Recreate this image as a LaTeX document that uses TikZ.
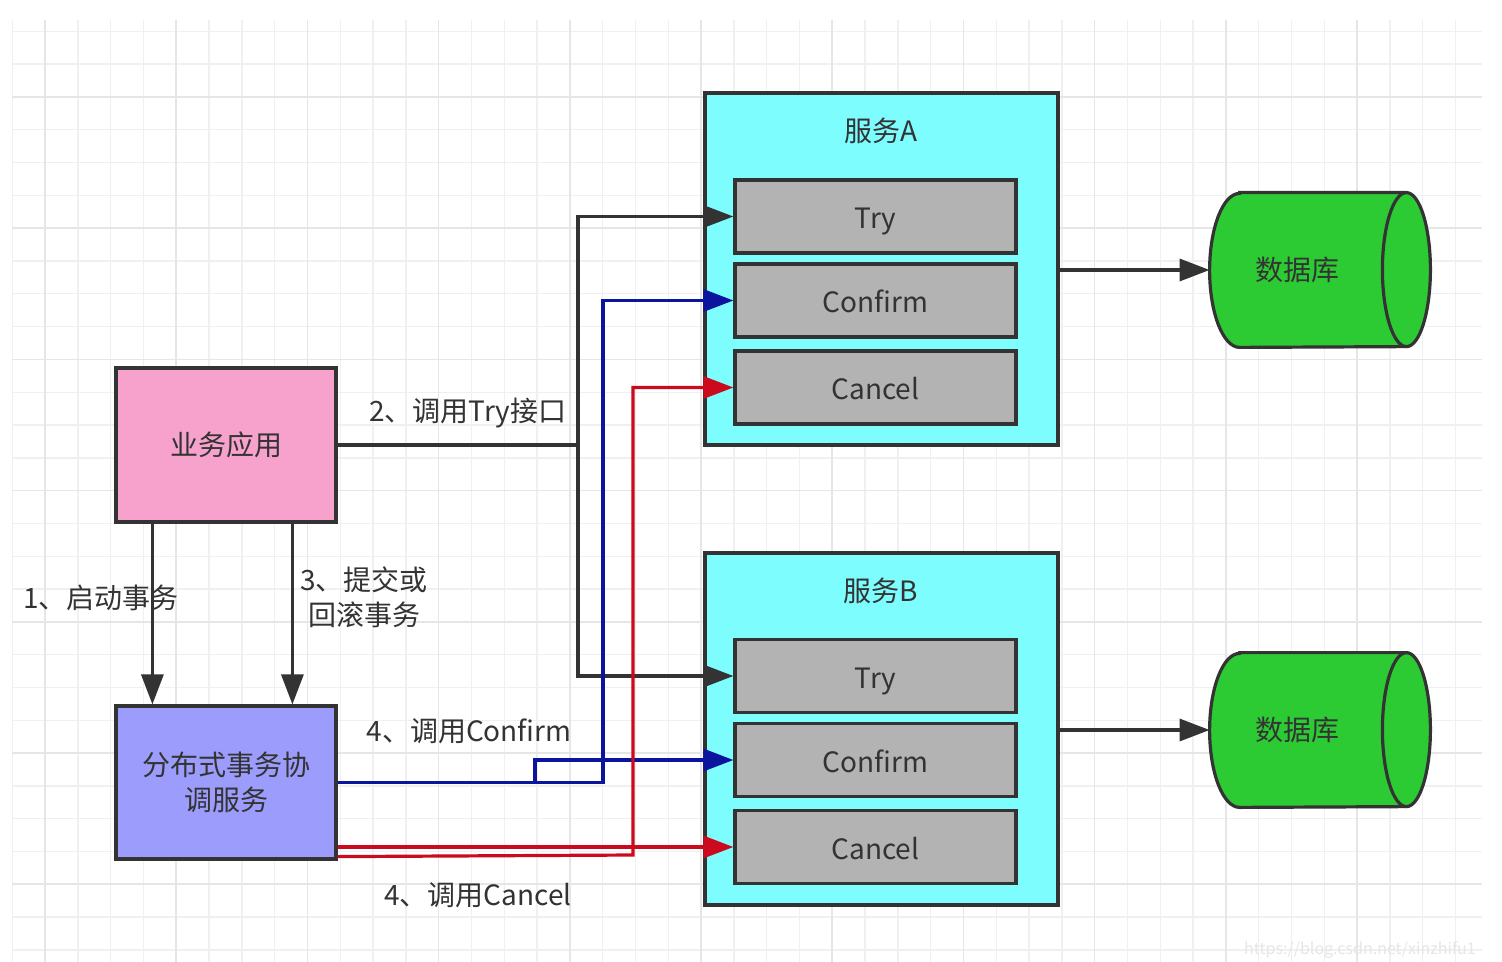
\documentclass[tikz,border=0pt]{standalone}
\usepackage{fontspec}
\setmainfont{Noto Sans CJK SC}
\usetikzlibrary{arrows.meta,calc}
\definecolor{bordercol}{HTML}{333333}
\definecolor{textcol}{HTML}{333333}
\definecolor{pinkfill}{HTML}{F7A1CD}
\definecolor{lavfill}{HTML}{9C9CFC}
\definecolor{cyanfill}{HTML}{7DFDFE}
\definecolor{grayfill}{HTML}{B3B3B3}
\definecolor{greenfill}{HTML}{2DCB33}
\definecolor{bluecol}{HTML}{0A149C}
\definecolor{redcol}{HTML}{CC0A1E}
\definecolor{gridminorcol}{HTML}{F0F0F0}
\definecolor{gridmajorcol}{HTML}{E6E6E6}
\definecolor{wmcol}{HTML}{E6E6E6}
\begin{document}
\begin{tikzpicture}[x=0.5pt,y=-0.5pt,
  gridminor/.style={draw=gridminorcol,line width=0.7pt},
  gridmajor/.style={draw=gridmajorcol,line width=0.8pt},
  box/.style={draw=bordercol,line width=1.6pt,inner sep=0pt},
  bigbox/.style={box,minimum width=110pt,minimum height=77pt,align=center,text=textcol,font=\fontsize{14}{17.5}\selectfont},
  svcbox/.style={box,fill=cyanfill,minimum width=176.5pt,minimum height=176pt},
  subbox/.style={box,fill=grayfill,minimum width=140.5pt,minimum height=36.5pt,text=textcol,font=\fontsize{14}{17.5}\selectfont,text height=12pt,text depth=0pt},
  lbl/.style={text=textcol,font=\fontsize{14}{17.5}\selectfont,align=center,inner sep=0pt},
  dbbody/.style={minimum width=110pt,minimum height=77pt,inner sep=0pt},
  dbdraw/.style={draw=bordercol,line width=1.6pt,fill=greenfill},
  conn/.style={line width=1.6pt,-{Triangle[length=15pt,width=11pt]}},
  blackconn/.style={conn,draw=bordercol,color=bordercol},
  blueconn/.style={conn,color=bluecol},
  redconn/.style={conn,color=redcol}
]
\useasboundingbox[fill=white] (0,0) rectangle (1502,962);
% grid
\foreach \i in {-1,...,43} \draw[gridminor] ({45+32.8*\i},20) -- ({45+32.8*\i},962);
\foreach \j in {-2,...,26} \draw[gridminor] (12,{97+32.8*\j}) -- (1482,{97+32.8*\j});
\foreach \i in {0,4,...,40} \draw[gridmajor] ({45+32.8*\i},20) -- ({45+32.8*\i},962);
\foreach \j in {0,4,...,24} \draw[gridmajor] (12,{97+32.8*\j}) -- (1482,{97+32.8*\j});

% left boxes
\node[bigbox,fill=pinkfill] (biz) at (226,445) {业务应用};
\node[bigbox,fill=lavfill,minimum height=76.5pt] (coord) at (226,782.5) {分布式事务协\\调服务};

% services
\node[svcbox] (svcA) at (881.5,269) {};
\node[lbl] (titleA) at (881,131) {服务A};
\node[subbox] (tryA) at (875.5,216.5) {Try};
\node[subbox] (confA) at (875.5,300.5) {Confirm};
\node[subbox] (canA) at (875.5,387.5) {Cancel};

\node[svcbox] (svcB) at (881.5,729) {};
\node[lbl] (titleB) at (881,591) {服务B};
\node[subbox] (tryB) at (875.5,676) {Try};
\node[subbox] (confB) at (875.5,760) {Confirm};
\node[subbox] (canB) at (875.5,847) {Cancel};

% databases
\foreach \n/\y in {dbA/270,dbB/730}{
  \node[dbbody] (\n) at (1320,\y) {};
  \draw[dbdraw] ([xshift=15pt]\n.north west) -- ([xshift=-12pt]\n.north east)
     arc[start angle=90,end angle=-90,x radius=12pt,y radius=38.5pt]
     -- ([xshift=15pt]\n.south west)
     arc[start angle=270,end angle=90,x radius=15pt,y radius=38.5pt] -- cycle;
  \draw[draw=bordercol,line width=1.6pt] ([xshift=-12pt]\n.north east)
     arc[start angle=90,end angle=270,x radius=12pt,y radius=38.5pt];
  \node[lbl] (\n text) at (1297,\y) {数据库};
}

% black connectors
\coordinate (jB) at (578,445);
\draw[blackconn] (biz.east) -- (jB) |- (tryA.west);
\draw[blackconn] (jB) |- (tryB.west);
\draw[blackconn] ($(biz.south west)+(38,0)$) -- ($(coord.north west)+(38,0)$);
\draw[blackconn] ($(biz.south west)+(178,0)$) -- ($(coord.north west)+(178,0)$);
\draw[blackconn] (svcA.east |- dbA.west) -- (dbA.west);
\draw[blackconn] (svcB.east |- dbB.west) -- (dbB.west);

% blue connectors
\coordinate (bj1) at (535,782.5);
\coordinate (bj2) at (603,782.5);
\draw[blueconn] (coord.east) -- (bj1) |- (confB.west);
\draw[blueconn] (bj1) -- (bj2) |- (confA.west);

% red connectors
\coordinate (rs1) at (coord.east |- canB.west);
\coordinate (rs2) at ($(coord.south east)+(0,-4)$);
\coordinate (rj) at (633,855);
\draw[redconn] (rs1) -- (canB.west);
\draw[redconn] (rs2) -- (rj) |- (canA.west);

% labels
\node[lbl] (l2) at (468,413) {2、调用Try接口};
\node[lbl] (l1) at (101,598) {1、启动事务};
\node[lbl] (l3) at (364,597) {3、提交或\\回滚事务};
\node[lbl] (l4a) at (469,731) {4、调用Confirm};
\node[lbl] (l4b) at (478,895) {4、调用Cancel};
\node[text=wmcol,font=\fontsize{8}{9}\selectfont,inner sep=0pt] (wm) at (1360,950) {https://blog.csdn.net/xinzhifu1};
\end{tikzpicture}
\end{document}
